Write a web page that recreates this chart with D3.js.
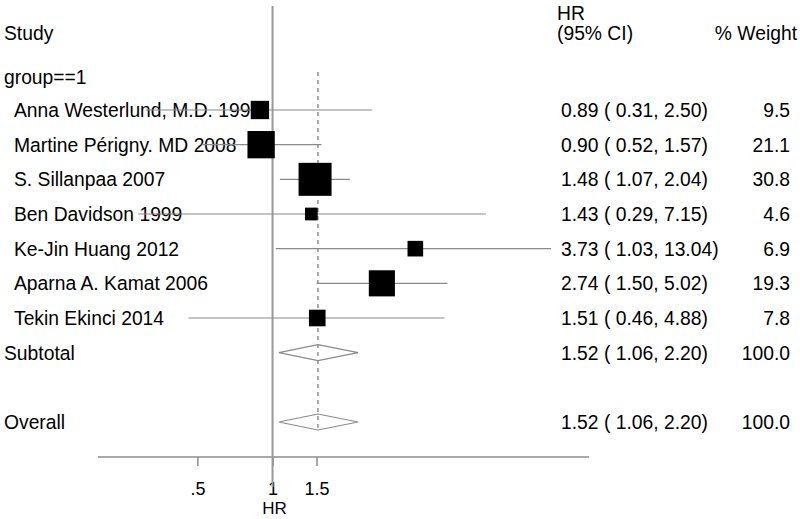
<!DOCTYPE html>
<html>
<head>
<meta charset="utf-8">
<script src="https://cdn.jsdelivr.net/npm/d3@7"></script>
<style>
  body { margin: 0; background: #fff; }
  text { font-family: "Liberation Sans", Arial, sans-serif; font-size: 19.3px; fill: #000; }
</style>
</head>
<body>
<div id="chart"></div>
<script>
// study rows
var studies = ["Anna Westerlund, M.D. 1999", "Martine Périgny. MD 2008", "S. Sillanpaa 2007",
               "Ben Davidson 1999", "Ke-Jin Huang 2012", "Aparna A. Kamat 2006", "Tekin Ekinci 2014"];
var hr     = [0.89, 0.90, 1.48, 1.43, 3.73, 2.74, 1.51];
var lower  = [0.31, 0.52, 1.07, 0.29, 1.03, 1.50, 0.46];
var upper  = [2.50, 1.57, 2.04, 7.15, 13.04, 5.02, 4.88];
var weight = [9.5, 21.1, 30.8, 4.6, 6.9, 19.3, 7.8];

// pooled rows (subtotal, overall)
var pooledLabels = ["Subtotal", "Overall"];
var pooledHR     = [1.52, 1.52];
var pooledLower  = [1.06, 1.06];
var pooledUpper  = [2.20, 2.20];
var pooledWeight = [100.0, 100.0];
var pooledRow    = [7, 9];

var tickValues = [0.5, 1, 1.5];
var tickLabels = [".5", "1", "1.5"];

var width = 800, height = 519;

var svg = d3.select("#chart").append("svg")
    .attr("width", width)
    .attr("height", height);

var x = d3.scaleLog().domain([0.2, 18.5]).range([98, 589]);
var y = d3.scaleLinear().domain([0, 9]).range([110, 422]);
var side = d3.scaleSqrt().domain([0, 30.8]).range([0, 33]);

var f2 = d3.format(".2f"), f1 = d3.format(".1f");
function ciText(h, l, u) { return f2(h) + " ( " + f2(l) + ", " + f2(u) + ")"; }

var colX = 561, weightX = 790;

// headers
svg.append("text").attr("x", 4).attr("y", 40).text("Study");
svg.append("text").attr("x", 557).attr("y", 20).text("HR");
svg.append("text").attr("x", 557).attr("y", 40).text("(95% CI)");
svg.append("text").attr("x", 797).attr("y", 40).attr("text-anchor", "end").text("% Weight");
svg.append("text").attr("x", 4).attr("y", 84).text("group==1");

// study labels and numbers
studies.forEach(function(s, i) {
    svg.append("text").attr("x", 14).attr("y", y(i) + 7).text(s);
    svg.append("text").attr("x", colX).attr("y", y(i) + 7).text(ciText(hr[i], lower[i], upper[i]));
    svg.append("text").attr("x", weightX).attr("y", y(i) + 7).attr("text-anchor", "end").text(f1(weight[i]));
});
pooledLabels.forEach(function(s, i) {
    var r = pooledRow[i];
    svg.append("text").attr("x", 4).attr("y", y(r) + 7).text(s);
    svg.append("text").attr("x", colX).attr("y", y(r) + 7).text(ciText(pooledHR[i], pooledLower[i], pooledUpper[i]));
    svg.append("text").attr("x", weightX).attr("y", y(r) + 7).attr("text-anchor", "end").text(f1(pooledWeight[i]));
});

// axis
var axis = svg.append("g")
    .attr("transform", "translate(0,457)")
    .call(d3.axisBottom(x).tickValues(tickValues).tickSize(9)
        .tickFormat(function(d, i) { return tickLabels[i]; }));
axis.select(".domain").attr("stroke", "#8c8c8c").attr("stroke-width", 1.5)
    .attr("d", "M" + x.range()[0] + ",0H" + x.range()[1]);
axis.selectAll(".tick line").attr("stroke", "#8c8c8c").attr("stroke-width", 1.5);
axis.selectAll(".tick text").attr("y", 38).attr("dy", 0)
    .style("font-family", "'Liberation Sans', Arial, sans-serif").style("font-size", "18px").attr("fill", "#000");
svg.append("text").attr("x", x(1) + 2).attr("y", 514).attr("text-anchor", "middle")
    .style("font-size", "17px").text("HR");

// null line
svg.append("line")
    .attr("x1", x(1)).attr("x2", x(1))
    .attr("y1", 6).attr("y2", 487)
    .attr("stroke", "#999").attr("stroke-width", 2);

// pooled estimate dashed line
svg.append("line")
    .attr("x1", x(pooledHR[1])).attr("x2", x(pooledHR[1]))
    .attr("y1", 72).attr("y2", y(pooledRow[1]) + 8)
    .attr("stroke", "#555").attr("stroke-width", 1)
    .attr("stroke-dasharray", "4,4");

// confidence intervals
studies.forEach(function(s, i) {
    svg.append("line")
        .attr("x1", x(lower[i])).attr("x2", x(upper[i]))
        .attr("y1", y(i)).attr("y2", y(i))
        .attr("stroke", "#8a8a8a").attr("stroke-width", 1.2);
});

// weight boxes
studies.forEach(function(s, i) {
    var w = side(weight[i]);
    svg.append("rect")
        .attr("x", x(hr[i]) - w / 2).attr("y", y(i) - w / 2)
        .attr("width", w).attr("height", w)
        .attr("fill", "#000");
});

// pooled diamonds
pooledLabels.forEach(function(s, i) {
    var cy = y(pooledRow[i]);
    var pts = [[x(pooledLower[i]), cy], [x(pooledHR[i]), cy - 8], [x(pooledUpper[i]), cy], [x(pooledHR[i]), cy + 8]];
    svg.append("polygon")
        .attr("points", pts.map(function(p) { return p.join(","); }).join(" "))
        .attr("fill", "none").attr("stroke", "#8a8a8a").attr("stroke-width", 1.2);
});
</script>
</body>
</html>
